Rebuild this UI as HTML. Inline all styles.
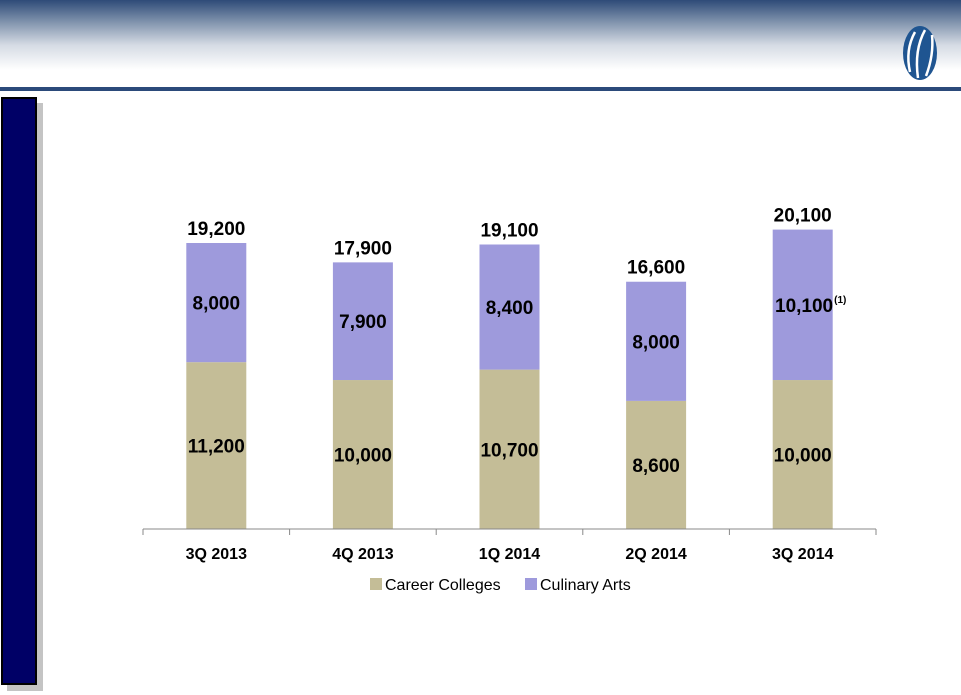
<!DOCTYPE html>
<html><head><meta charset="utf-8"><style>
body{margin:0;width:961px;height:695px;background:#fff;overflow:hidden;position:relative;font-family:"Liberation Sans",sans-serif}
#hdr{position:absolute;left:0;top:0;width:961px;height:88px;background:linear-gradient(#2e4b78 0px,#8093ad 22px,#d5dbe4 45px,#fff 70px)}
#rule{position:absolute;left:0;top:87px;width:961px;height:4px;background:#2b4a7a}
#shadow{position:absolute;left:7px;top:103px;width:36px;height:588px;background:#c4c4c4}
#side{position:absolute;left:1px;top:97px;width:32px;height:584px;background:#000066;border:2px solid #000}
svg{position:absolute;left:0;top:0}
</style></head><body>
<div id="hdr"></div>
<div id="rule"></div>
<div id="shadow"></div>
<div id="side"></div>
<svg width="961" height="695" id="chart">
<g>
<ellipse cx="920" cy="53" rx="17" ry="27" fill="#1f5591"/>
<path d="M910 72 Q905 50 915 32" stroke="#fff" stroke-width="2.5" fill="none"/>
<path d="M918 78 Q914 50 925 30" stroke="#fff" stroke-width="2.5" fill="none"/>
<path d="M926 76 Q934 55 932 35" stroke="#fff" stroke-width="2.5" fill="none"/>
</g>
</svg>
<script>
const categories=["3Q 2013","4Q 2013","1Q 2014","2Q 2014","3Q 2014"];
const career=[11200,10000,10700,8600,10000];
const culinary=[8000,7900,8400,8000,10100];
const totals=[19200,17900,19100,16600,20100];
const svg=document.getElementById('chart');
const NS='http://www.w3.org/2000/svg';
const x0=143,x1=876,base=529,scale=286/19200;
const band=(x1-x0)/categories.length,bw=60;
const y=v=>base-v*scale;
const fmt=v=>v.toLocaleString('en-US');
function mk(tag,attrs,txt){const e=document.createElementNS(NS,tag);for(const k in attrs)e.setAttribute(k,attrs[k]);if(txt!==undefined)e.textContent=txt;svg.appendChild(e);return e;}
categories.forEach((c,i)=>{
  const cx=x0+band*(i+0.5),bx=cx-bw/2;
  const r1=mk('rect',{x:bx,y:y(career[i]),width:bw,height:base-y(career[i]),fill:'#c4bd97'});
  
  
  const r2=mk('rect',{x:bx,y:y(career[i]+culinary[i]),width:bw,height:culinary[i]*scale,fill:'#9e9adc'});
  
  
  const t1=mk('text',{x:cx,y:(base+y(career[i]))/2+7,'text-anchor':'middle','font-size':19,'font-weight':'bold'},fmt(career[i]));
  
  
  const t2=mk('text',{x:cx,y:(y(career[i])+y(career[i]+culinary[i]))/2+7,'text-anchor':'middle','font-size':19,'font-weight':'bold'});
  
  
  t2.textContent=fmt(culinary[i]);
  if(i===4){const s=document.createElementNS(NS,'tspan');s.setAttribute('font-size',10);s.setAttribute('dy',-9);s.setAttribute('dx',1);s.textContent='(1)';t2.appendChild(s);t2.setAttribute('x',cx+8);}
  const t3=mk('text',{x:cx,y:y(totals[i])-8,'text-anchor':'middle','font-size':19,'font-weight':'bold'},fmt(totals[i]));
  
  
  const tc=mk('text',{x:cx,y:559,'text-anchor':'middle','font-size':16,'font-weight':'bold'},c);
  
  
});
const ax=mk('line',{x1:x0,y1:base,x2:x1,y2:base,stroke:'#888','stroke-width':1});


for(let i=0;i<=categories.length;i++){const tk=mk('line',{x1:x0+band*i,y1:base,x2:x0+band*i,y2:base+6,stroke:'#888'});

}
const l1=mk('rect',{x:370,y:578,width:12,height:12,fill:'#c4bd97'});


const l2=mk('text',{x:385,y:590,'font-size':16},'Career Colleges');


const l3=mk('rect',{x:525,y:578,width:12,height:12,fill:'#9e9adc'});


const l4=mk('text',{x:540,y:590,'font-size':16},'Culinary Arts');


</script>
</body></html>
